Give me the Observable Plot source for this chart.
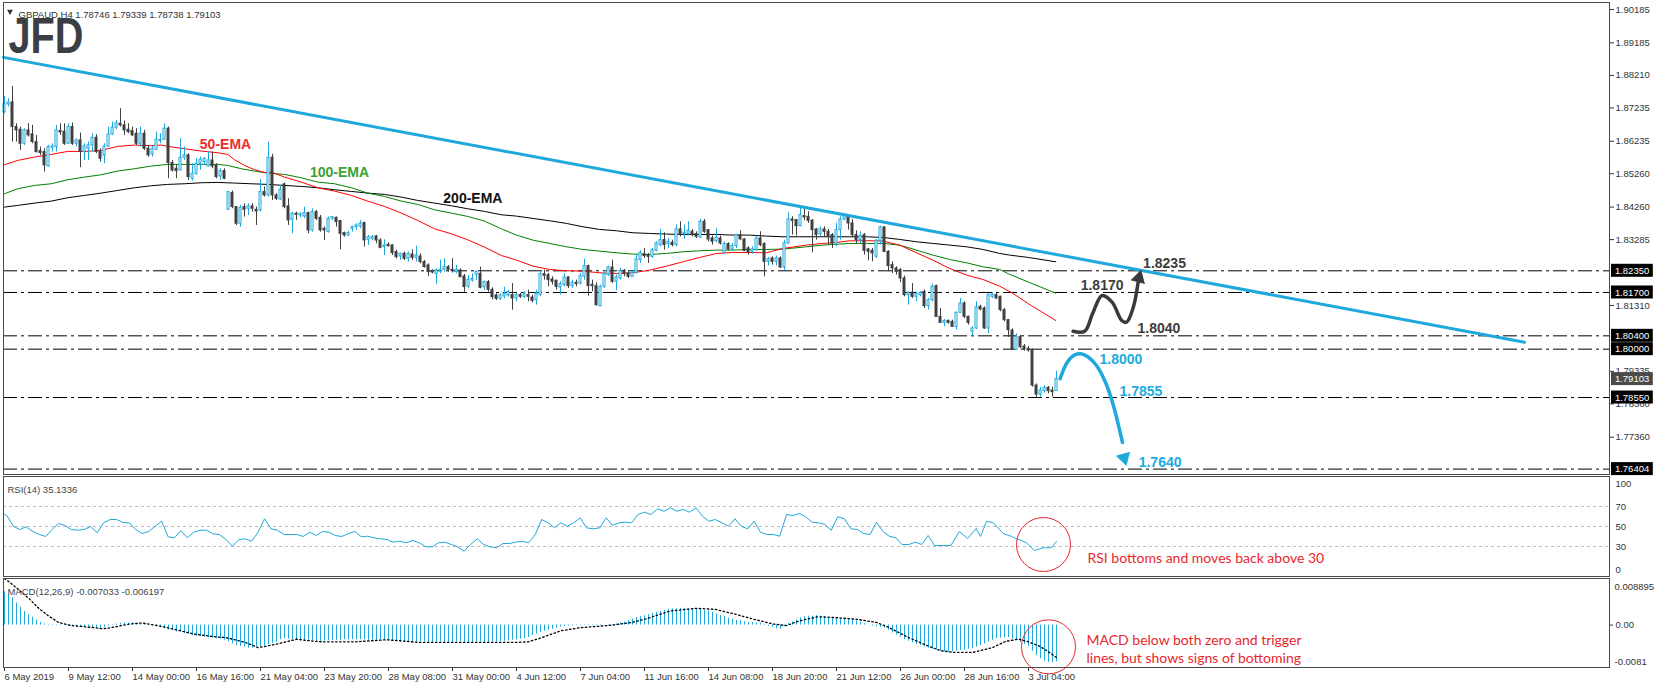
<!DOCTYPE html>
<html><head><meta charset="utf-8">
<script src="https://cdn.jsdelivr.net/npm/d3@7"></script>
<script src="https://cdn.jsdelivr.net/npm/@observablehq/plot@0.6"></script>
<style>
body{margin:0;background:#fff;}
#wrap{position:relative;width:1655px;height:688px;overflow:hidden;background:#fff;}
#wrap svg{position:absolute;left:0;overflow:visible;}
</style></head><body><div id="wrap"></div>
<script>
// ---------- DATA ----------
const open = [1.8711,1.8734,1.8740,1.8666,1.8658,1.8616,1.8656,1.8644,1.8621,1.8594,
1.8591,1.8548,1.8604,1.8606,1.8654,1.8652,1.8616,1.8666,1.8616,1.8626,
1.8591,1.8601,1.8611,1.8634,1.8591,1.8581,1.8608,1.8644,1.8664,1.8676,
1.8671,1.8658,1.8654,1.8646,1.8616,1.8646,1.8601,1.8584,1.8598,1.8624,
1.8628,1.8661,1.8558,1.8541,1.8536,1.8574,1.8581,1.8511,1.8526,1.8556,
1.8561,1.8548,1.8566,1.8551,1.8518,1.8534,1.8418,1.8468,1.8426,1.8376,
1.8426,1.8421,1.8428,1.8418,1.8416,1.8471,1.8461,1.8574,1.8461,1.8449,
1.8494,1.8428,1.8388,1.8406,1.8401,1.8398,1.8408,1.8356,1.8411,1.8394,
1.8361,1.8351,1.8391,1.8394,1.8384,1.8348,1.8341,1.8361,1.8366,1.8368,
1.8378,1.8328,1.8331,1.8338,1.8326,1.8306,1.8313,1.8311,1.8291,1.8278,
1.8286,1.8271,1.8284,1.8274,1.8278,1.8261,1.8251,1.8234,1.8226,1.8234,
1.8238,1.8246,1.8238,1.8231,1.8236,1.8218,1.8188,1.8206,1.8223,1.8226,
1.8186,1.8201,1.8178,1.8161,1.8151,1.8158,1.8161,1.8162,1.8152,1.8162,
1.8157,1.8162,1.8155,1.8147,1.8162,1.8225,1.8222,1.8209,1.8205,1.8185,
1.8192,1.8215,1.8189,1.8199,1.8197,1.8217,1.8249,1.8193,1.8189,1.8129,
1.8187,1.8222,1.8245,1.8202,1.8212,1.8235,1.8227,1.8217,1.8229,1.8267,
1.8285,1.8282,1.8277,1.8295,1.8312,1.8327,1.8315,1.8319,1.8312,1.8359,
1.8345,1.8345,1.8352,1.8345,1.8335,1.8382,1.8357,1.8332,1.8324,1.8332,
1.8289,1.8315,1.8299,1.8309,1.8342,1.8329,1.8302,1.8292,1.8297,1.8332,
1.8315,1.8262,1.8272,1.8262,1.8272,1.8245,1.8317,1.8389,1.8387,1.8369,
1.8399,1.8397,1.8385,1.8359,1.8345,1.8359,1.8352,1.8342,1.8317,1.8357,
1.8389,1.8399,1.8377,1.8342,1.8327,1.8342,1.8299,1.8295,1.8277,1.8325,
1.8365,1.8292,1.8252,1.8242,1.8237,1.8212,1.8162,1.8169,1.8157,1.8162,
1.8172,1.8129,1.8147,1.8189,1.8097,1.8079,1.8085,1.8082,1.8067,1.8109,
1.8137,1.8097,1.8052,1.8062,1.8127,1.8122,1.8062,1.8157,1.8162,1.8157,
1.8117,1.8087,1.8056,1.7998,1.8036,1.8008,1.8001,1.7996,1.7891,1.7864,
1.7874,1.7884,1.7876,1.78746];
const high = [1.8758,1.8751,1.8788,1.8676,1.8666,1.8661,1.8676,1.8671,1.8641,1.8606,
1.8601,1.8611,1.8616,1.8671,1.8676,1.8676,1.8676,1.8678,1.8631,1.8648,
1.8616,1.8621,1.8646,1.8643,1.8601,1.8616,1.8666,1.8681,1.8686,1.8721,
1.8684,1.8676,1.8666,1.8661,1.8666,1.8656,1.8611,1.8608,1.8651,1.8646,
1.8676,1.8666,1.8566,1.8551,1.8631,1.8606,1.8586,1.8556,1.8571,1.8576,
1.8574,1.8591,1.8591,1.8556,1.8541,1.8541,1.8471,1.8474,1.8428,1.8431,
1.8436,1.8436,1.8436,1.8426,1.8508,1.8486,1.8621,1.8584,1.8466,1.8491,
1.8498,1.8451,1.8411,1.8411,1.8408,1.8426,1.8411,1.8421,1.8416,1.8401,
1.8366,1.8396,1.8398,1.8396,1.8386,1.8351,1.8354,1.8369,1.8376,1.8386,
1.8381,1.8341,1.8341,1.8341,1.8331,1.8328,1.8319,1.8313,1.8296,1.8288,
1.8291,1.8291,1.8298,1.8309,1.8286,1.8266,1.8256,1.8238,1.8241,1.8266,
1.8271,1.8251,1.8271,1.8251,1.8241,1.8224,1.8221,1.8226,1.8236,1.8246,
1.8204,1.8206,1.8184,1.8166,1.8166,1.8186,1.8176,1.8197,1.8167,1.8167,
1.8172,1.8177,1.8162,1.8177,1.8232,1.8237,1.8227,1.8217,1.8207,1.8202,
1.8227,1.8217,1.8207,1.8207,1.8227,1.8270,1.8252,1.8207,1.8199,1.8192,
1.8229,1.8249,1.8267,1.8222,1.8242,1.8239,1.8232,1.8237,1.8282,1.8295,
1.8302,1.8287,1.8302,1.8322,1.8359,1.8349,1.8332,1.8327,1.8372,1.8382,
1.8372,1.8382,1.8359,1.8352,1.8389,1.8389,1.8359,1.8339,1.8362,1.8339,
1.8322,1.8319,1.8317,1.8345,1.8355,1.8332,1.8307,1.8307,1.8339,1.8352,
1.8319,1.8275,1.8277,1.8279,1.8277,1.8327,1.8409,1.8397,1.8389,1.8422,
1.8419,1.8412,1.8389,1.8362,1.8367,1.8367,1.8359,1.8347,1.8377,1.8397,
1.8407,1.8402,1.8389,1.8355,1.8352,1.8347,1.8302,1.8302,1.8329,1.8369,
1.8367,1.8295,1.8262,1.8247,1.8242,1.8219,1.8172,1.8197,1.8171,1.8173,
1.8177,1.8152,1.8195,1.8192,1.8122,1.8089,1.8087,1.8087,1.8112,1.8152,
1.8142,1.8099,1.8067,1.8142,1.8132,1.8127,1.8167,1.8169,1.8167,1.8159,
1.8122,1.8089,1.8061,1.8046,1.8041,1.8014,1.8008,1.8001,1.7896,1.7886,
1.7891,1.7888,1.7886,1.79339];
const low = [1.8706,1.8726,1.8621,1.8621,1.8596,1.8611,1.8636,1.8616,1.8588,1.8581,
1.8531,1.8546,1.8591,1.8591,1.8641,1.8611,1.8614,1.8611,1.8606,1.8544,
1.8566,1.8566,1.8591,1.8586,1.8561,1.8556,1.8606,1.8641,1.8658,1.8666,
1.8641,1.8646,1.8638,1.8611,1.8606,1.8596,1.8576,1.8576,1.8596,1.8616,
1.8626,1.8511,1.8531,1.8511,1.8534,1.8566,1.8506,1.8504,1.8521,1.8536,
1.8551,1.8546,1.8541,1.8511,1.8506,1.8508,1.8416,1.8421,1.8371,1.8366,
1.8396,1.8401,1.8411,1.8371,1.8411,1.8456,1.8456,1.8446,1.8446,1.8446,
1.8421,1.8371,1.8346,1.8386,1.8394,1.8391,1.8346,1.8351,1.8386,1.8351,
1.8326,1.8348,1.8386,1.8366,1.8298,1.8336,1.8338,1.8351,1.8356,1.8361,
1.8306,1.8311,1.8326,1.8316,1.8301,1.8281,1.8306,1.8281,1.8271,1.8266,
1.8266,1.8261,1.8266,1.8261,1.8256,1.8243,1.8218,1.8226,1.8194,1.8226,
1.8231,1.8231,1.8228,1.8226,1.8214,1.8171,1.8181,1.8201,1.8206,1.8181,
1.8176,1.8171,1.8148,1.8146,1.8146,1.8151,1.8156,1.8117,1.8142,1.8152,
1.8152,1.8142,1.8139,1.8132,1.8157,1.8207,1.8187,1.8192,1.8177,1.8162,
1.8187,1.8182,1.8182,1.8187,1.8192,1.8207,1.8159,1.8172,1.8129,1.8127,
1.8182,1.8217,1.8197,1.8175,1.8207,1.8217,1.8212,1.8215,1.8225,1.8257,
1.8272,1.8257,1.8272,1.8292,1.8307,1.8297,1.8302,1.8307,1.8307,1.8337,
1.8329,1.8342,1.8337,1.8332,1.8332,1.8347,1.8322,1.8312,1.8319,1.8312,
1.8287,1.8295,1.8295,1.8302,1.8327,1.8292,1.8282,1.8285,1.8292,1.8307,
1.8217,1.8249,1.8252,1.8249,1.8242,1.8235,1.8315,1.8342,1.8339,1.8367,
1.8385,1.8377,1.8289,1.8327,1.8337,1.8337,1.8312,1.8302,1.8307,1.8327,
1.8385,1.8357,1.8337,1.8317,1.8317,1.8282,1.8265,1.8262,1.8272,1.8312,
1.8289,1.8232,1.8227,1.8222,1.8199,1.8157,1.8132,1.8152,1.8142,1.8157,
1.8122,1.8117,1.8142,1.8095,1.8077,1.8067,1.8075,1.8065,1.8057,1.8107,
1.8092,1.8072,1.8039,1.8059,1.8115,1.8059,1.8047,1.8152,1.8149,1.8112,
1.8082,1.8035,1.7996,1.7996,1.8001,1.7994,1.7991,1.7886,1.7855,1.7856,
1.7868,1.7866,1.7856,1.78738];
const close = [1.8734,1.8740,1.8666,1.8656,1.8616,1.8656,1.8641,1.8621,1.8591,1.8588,
1.8551,1.8606,1.8608,1.8656,1.8650,1.8616,1.8666,1.8616,1.8626,1.8591,
1.8608,1.8611,1.8634,1.8591,1.8571,1.8608,1.8644,1.8664,1.8678,1.8671,
1.8656,1.8651,1.8641,1.8616,1.8646,1.8601,1.8581,1.8601,1.8628,1.8628,
1.8661,1.8558,1.8536,1.8534,1.8574,1.8581,1.8516,1.8526,1.8556,1.8568,
1.8571,1.8566,1.8548,1.8516,1.8534,1.8511,1.8471,1.8426,1.8376,1.8424,
1.8418,1.8428,1.8421,1.8413,1.8471,1.8461,1.8574,1.8461,1.8451,1.8478,
1.8426,1.8386,1.8406,1.8403,1.8406,1.8408,1.8356,1.8411,1.8391,1.8356,
1.8356,1.8391,1.8396,1.8381,1.8346,1.8341,1.8348,1.8366,1.8371,1.8376,
1.8326,1.8336,1.8336,1.8326,1.8304,1.8311,1.8309,1.8288,1.8276,1.8286,
1.8271,1.8286,1.8274,1.8281,1.8261,1.8246,1.8231,1.8230,1.8236,1.8238,
1.8246,1.8238,1.8234,1.8238,1.8216,1.8186,1.8208,1.8211,1.8231,1.8184,
1.8201,1.8178,1.8156,1.8151,1.8161,1.8166,1.8171,1.8152,1.8162,1.8157,
1.8167,1.8157,1.8145,1.8167,1.8225,1.8220,1.8207,1.8202,1.8187,1.8195,
1.8215,1.8189,1.8199,1.8195,1.8219,1.8249,1.8189,1.8189,1.8132,1.8187,
1.8225,1.8245,1.8202,1.8215,1.8235,1.8225,1.8217,1.8229,1.8269,1.8289,
1.8279,1.8277,1.8297,1.8317,1.8327,1.8312,1.8322,1.8312,1.8359,1.8342,
1.8349,1.8355,1.8342,1.8337,1.8382,1.8352,1.8329,1.8322,1.8334,1.8317,
1.8315,1.8299,1.8309,1.8342,1.8329,1.8295,1.8289,1.8299,1.8332,1.8312,
1.8262,1.8270,1.8262,1.8272,1.8245,1.8317,1.8389,1.8385,1.8369,1.8402,
1.8395,1.8385,1.8357,1.8342,1.8359,1.8352,1.8337,1.8317,1.8357,1.8389,
1.8399,1.8377,1.8342,1.8327,1.8339,1.8295,1.8292,1.8287,1.8325,1.8365,
1.8292,1.8249,1.8242,1.8232,1.8212,1.8162,1.8169,1.8157,1.8165,1.8169,
1.8129,1.8147,1.8187,1.8097,1.8079,1.8085,1.8079,1.8067,1.8109,1.8137,
1.8097,1.8079,1.8062,1.8125,1.8119,1.8062,1.8162,1.8164,1.8152,1.8117,
1.8087,1.8057,1.7998,1.8036,1.8006,1.8001,1.7996,1.7891,1.7864,1.7876,
1.7884,1.7874,1.7871,1.79103];

// EMA readings [bar, price]
const ema50 = [[0,1.8553],[3.3,1.8566],[7.5,1.8576],[11.7,1.8584],[15.8,1.8593],[20,1.8593],[24.2,1.8596],[28.3,1.8608],[32.5,1.8612],[36.7,1.8610],[39.2,1.8612],[40.8,1.8608],[45,1.8601],[49.2,1.8594],[53.3,1.8589],[55.8,1.8584],[57.5,1.8568],[60,1.8551],[62.5,1.8538],[65,1.8530],[66.7,1.8531],[70,1.8516],[74.2,1.8501],[78.3,1.8484],[82.5,1.8474],[86.7,1.8461],[90.8,1.8444],[95,1.8428],[99.2,1.8408],[103.3,1.8386],[107.5,1.8361],[111.7,1.8346],[115.8,1.8328],[120,1.8306],[124.2,1.8281],[128,1.8267],[132.1,1.8249],[136.3,1.8239],[140.5,1.8235],[144.6,1.8234],[148.8,1.8229],[153,1.8227],[157.1,1.8229],[161.3,1.8237],[165.5,1.8249],[169.6,1.8262],[173.8,1.8275],[178,1.8287],[182.1,1.8290],[186.3,1.8290],[190.5,1.8289],[194.6,1.8302],[200.5,1.8312],[204.6,1.8317],[207.1,1.8319],[211.3,1.8325],[217.1,1.8325],[219.6,1.8324],[223.8,1.8312],[228,1.8289],[232.1,1.8267],[236.3,1.8242],[240.5,1.8222],[244.6,1.8209],[248.8,1.8189],[252,1.8168],[256,1.8136],[262.8,1.8086]];
const ema100 = [[0,1.8466],[3.3,1.8481],[7.5,1.8491],[11.7,1.8496],[15.8,1.8508],[20,1.8516],[24.2,1.8523],[28.3,1.8534],[32.5,1.8541],[36.7,1.8549],[40.8,1.8554],[45,1.8554],[49.2,1.8554],[53.3,1.8554],[55.8,1.8551],[59.2,1.8541],[62.5,1.8534],[65.8,1.8528],[70,1.8524],[74.2,1.8514],[78.3,1.8501],[82.5,1.8496],[86.7,1.8484],[90.8,1.8468],[95,1.8458],[99.2,1.8444],[103.3,1.8434],[107.5,1.8418],[111.7,1.8408],[115.8,1.8398],[120,1.8384],[124.2,1.8361],[128,1.8342],[132.1,1.8327],[136.3,1.8317],[140.5,1.8307],[144.6,1.8299],[148.8,1.8294],[153,1.8289],[157.1,1.8285],[161.3,1.8284],[165.5,1.8287],[169.6,1.8292],[173.8,1.8295],[178,1.8297],[182.1,1.8297],[186.3,1.8299],[190.5,1.8299],[194.6,1.8300],[200.5,1.8307],[204.6,1.8312],[207.1,1.8314],[211.3,1.8317],[215.5,1.8317],[219.6,1.8317],[223.8,1.8312],[228,1.8297],[232.1,1.8282],[236.3,1.8269],[240.5,1.8259],[244.6,1.8247],[248.8,1.8239],[251,1.8226],[256,1.8201],[262.8,1.8168]];
const ema200 = [[0,1.8426],[3.3,1.8431],[7.5,1.8438],[11.7,1.8444],[15.8,1.8454],[20,1.8461],[24.2,1.8468],[28.3,1.8476],[32.5,1.8484],[36.7,1.8490],[40.8,1.8494],[45,1.8496],[49.2,1.8499],[53.3,1.8500],[57.5,1.8498],[61.7,1.8496],[65.8,1.8494],[70,1.8491],[74.2,1.8488],[78.3,1.8484],[82.5,1.8478],[86.7,1.8473],[90.8,1.8468],[95,1.8464],[99.2,1.8456],[103.3,1.8446],[107.5,1.8438],[111.7,1.8430],[115.8,1.8421],[120,1.8413],[124.2,1.8403],[128,1.8399],[132.1,1.8392],[136.3,1.8385],[140.5,1.8377],[144.6,1.8367],[148.8,1.8359],[153,1.8355],[157.1,1.8349],[161.3,1.8347],[165.5,1.8345],[169.6,1.8344],[173.8,1.8344],[178,1.8344],[182.1,1.8342],[186.3,1.8342],[190.5,1.8339],[194.6,1.8337],[198.8,1.8337],[203,1.8337],[207.1,1.8337],[211.3,1.8337],[215.5,1.8337],[219.6,1.8335],[223.8,1.8329],[228,1.8322],[232.1,1.8317],[236.3,1.8312],[240.5,1.8307],[244.6,1.8299],[248.8,1.8287],[251.3,1.8282],[256,1.8275],[262.8,1.8262]];

// RSI(14) readings [bar, value]
const rsi = [[0,62],[0.6,61],[2.2,50.3],[3.8,47],[5.4,49.7],[7.1,45],[8.7,42],[10.3,40],[11.9,47],[13.5,53],[15.1,51],[16.7,47],[18.3,46.3],[19.9,47],[21.5,50],[23.2,43.7],[24.8,53.7],[26.4,57],[28,57],[29.6,54],[31.2,53.7],[32.8,47],[34.4,43],[36,45],[37.6,50],[39.3,55.3],[40.9,39.7],[42.5,38.7],[44.1,46],[45.7,38.7],[47.3,44.3],[48.9,46.3],[50.5,46.3],[52.1,42.7],[53.7,42],[55.4,37],[57,30.3],[58.6,37],[60.2,37.7],[61.8,35.3],[63.4,44.3],[65,57.7],[66.6,47.7],[68.2,46.3],[69.9,42],[71.5,42],[73.1,42],[74.7,40],[76.3,44.3],[77.9,41],[79.5,45],[81.1,44.3],[82.7,41],[84.3,40],[86,43],[87.6,45],[89.2,39.7],[90.8,40.3],[92.4,38.7],[94,37.7],[95.6,37],[97.2,34.3],[98.8,35.3],[100.4,33.7],[102.1,36],[103.7,33.7],[105.3,29.7],[106.9,29.7],[108.5,33.7],[110.1,34.3],[111.7,32],[113.3,29.7],[114.9,25.3],[116.5,32],[118.2,37.7],[119.8,32],[121.4,29.7],[123,28.7],[124.6,33],[126.2,33],[127.8,34.3],[129.4,35.3],[131,33.7],[132.7,42],[134.3,57],[135.9,53.7],[137.5,48.7],[139.1,53.7],[140.7,50.3],[142.3,53.7],[143.9,58.7],[145.5,48.7],[147.1,47.7],[148.8,48.7],[150.4,58.7],[152,51],[153.6,53.7],[155.2,54.3],[156.8,53.7],[158.4,62],[160,64.3],[161.6,62],[163.3,67.7],[164.9,65.3],[166.5,68.7],[168.1,65.3],[169.7,67],[171.3,64.3],[172.9,68.7],[174.5,60.3],[176.1,55.3],[177.7,57],[179.4,53.7],[181,50.3],[182.6,57.7],[184.2,50.3],[185.8,47.7],[187.4,55.3],[189,44.3],[190.6,42],[192.2,42],[193.8,40.3],[195.5,62],[197.1,61],[198.7,63],[200.3,59.7],[201.9,54.3],[203.5,53.7],[205.1,52],[206.7,46.3],[208.3,59.7],[210,57.7],[211.6,47.7],[213.2,47],[214.8,43],[216.4,42],[218,54.3],[219.6,45],[221.2,40.3],[222.8,38.7],[224.4,32],[226.1,32],[227.7,34.3],[229.3,32],[230.9,41],[232.5,31],[234.1,31],[235.7,31],[236.6,31],[238.7,45],[240.8,38],[242.9,48],[244,40],[245.5,55],[247.1,54],[249.7,43],[251.8,40],[252.8,38],[255.4,34],[257.5,26],[259.6,28.7],[261.7,28.7],[263,35.1]];

// MACD(12,26,9) main histogram, one value per bar
const macdMain = [.0064,.0058,.0052,.0042,.0034,.0026,.0020,.0015,.0009,.0005,
.0002,-.0001,-.0001,-.0001,-.0001,-.0001,-.0002,-.0002,-.0003,-.0003,
-.0004,-.0004,-.0005,-.0005,-.0006,-.0005,-.0002,.0001,.0002,.0003,
.0004,.0004,.0004,.0003,.0002,.0001,0,-.0001,-.0003,-.0005,
-.0007,-.0009,-.0011,-.0013,-.0014,-.0016,-.0018,-.0020,-.0021,-.0022,
-.0023,-.0024,-.0025,-.0026,-.0027,-.0029,-.0032,-.0035,-.0039,-.0041,
-.0042,-.0044,-.0044,-.0042,-.0041,-.0040,-.0037,-.0035,-.0033,-.0028,
-.0026,-.0027,-.0028,-.0028,-.0029,-.0029,-.0029,-.0030,-.0031,-.0031,
-.0030,-.0030,-.0029,-.0029,-.0029,-.0028,-.0028,-.0028,-.0028,-.0028,
-.0028,-.0029,-.0029,-.0029,-.0028,-.0028,-.0029,-.0030,-.0031,-.0032,
-.0033,-.0033,-.0033,-.0033,-.0032,-.0032,-.0033,-.0033,-.0032,-.0032,
-.0033,-.0033,-.0033,-.0032,-.0032,-.0033,-.0033,-.0033,-.0032,-.0032,
-.0033,-.0033,-.0032,-.0032,-.0031,-.0031,-.0030,-.0029,-.0028,-.0027,
-.0026,-.0024,-.0020,-.0017,-.0014,-.0012,-.0010,-.0008,-.0006,-.0004,
-.0003,-.0002,-.0001,-.0001,-.0001,-.0001,-.0001,-.0001,-.0001,-.0001,
0,.0001,.0001,.0002,.0004,.0006,.0009,.0011,.0014,.0016,
.0018,.0020,.0022,.0024,.0026,.0028,.0030,.0031,.0031,.0032,
.0032,.0031,.0031,.0031,.0030,.0028,.0027,.0024,.0021,.0018,
.0016,.0013,.0011,.0009,.0008,.0006,.0005,.0005,.0004,.0004,
.0001,-.0002,-.0004,-.0007,-.0008,-.0003,.0003,.0006,.0010,.0014,
.0016,.0017,.0017,.0018,.0017,.0016,.0014,.0013,.0012,.0012,
.0011,.0011,.0010,.0008,.0006,.0003,0,-.0002,-.0003,-.0004,
-.0006,-.0010,-.0015,-.0019,-.0023,-.0028,-.0031,-.0034,-.0037,-.0039,
-.0042,-.0044,-.0046,-.0048,-.0050,-.0051,-.0052,-.0051,-.0050,-.0049,
-.0048,-.0046,-.0045,-.0042,-.0039,-.0036,-.0032,-.0029,-.0026,-.0025,
-.0024,-.0024,-.0027,-.0030,-.0033,-.0037,-.0041,-.0050,-.0058,-.0064,
-.0069,-.0071,-.0072,-.0070];
// MACD signal readings [bar, value]
const macdSignal = [[0,.0089],[1.4,.0081],[3.8,.0066],[6.2,.0050],[8.7,.0031],[11.1,.0017],[13.5,.0005],[16.7,-.0001],[19.9,-.0003],[24.8,-.0007],[28,-.0003],[31.2,.0002],[34.4,.0004],[37.6,0],[42.5,-.0008],[47.3,-.0017],[52.1,-.0022],[55.4,-.0024],[60.2,-.0033],[63.4,-.0043],[65,-.0041],[68.2,-.0036],[73.1,-.0027],[76.3,-.0030],[79.5,-.0032],[87.6,-.0032],[95.6,-.0028],[103.7,-.0033],[111.7,-.0033],[119.8,-.0033],[127.8,-.0033],[131,-.0032],[134.3,-.0024],[139.1,-.0011],[143.9,-.0005],[152,0],[156.8,.0005],[160,.0011],[166.5,.0027],[172.9,.0032],[177.7,.0030],[182.6,.0021],[187.4,.0011],[192.2,.0002],[195.5,-.0001],[198.7,.0008],[203.5,.0016],[208.3,.0014],[213.2,.0011],[218,.0005],[221.2,-.0005],[226.1,-.0024],[230.9,-.0040],[234.1,-.0049],[237.3,-.0052],[242.2,-.0052],[247,-.0043],[250.3,-.0031],[253.5,-.0027],[255.6,-.0031],[258.7,-.0040],[260.8,-.0050],[263,-.0062]];

// Time axis labels (every 16 H4 bars)
const timeTickBars = [0,16,32,48,64,80,96,112,128,144,160,176,192,208,224,240,256];
const timeTickLabels = ["6 May 2019","9 May 12:00","14 May 00:00","16 May 16:00","21 May 04:00","23 May 20:00","28 May 08:00","31 May 00:00","4 Jun 12:00","7 Jun 04:00","11 Jun 16:00","14 Jun 08:00","18 Jun 20:00","21 Jun 12:00","26 Jun 00:00","28 Jun 16:00","3 Jul 04:00"];
// Price axis
const priceTicks = [1.90185,1.89185,1.88210,1.87235,1.86235,1.85260,1.84260,1.83285,1.81310,1.79335,1.78360,1.77360];
const levelLines = [1.8235,1.8170,1.8040,1.8000,1.7855,1.76404];
const levelBoxes = [1.82350,1.81700,1.80400,1.80000,1.78550,1.76404];
const lastPrice = 1.79103;
// Trendline [bar, price]
const trendline = [[-0.25,1.8875],[380,1.8021]];
// Scenario paths [bar, price]
const bullPath = [[267.15,1.80539],[270.05,1.80539],[272,1.81061],[274.4,1.81610],[276.9,1.81409],[279.3,1.80860],[280.5,1.80809],[282.2,1.81259],[283.4,1.81999]];
const bullHead = [283.6,1.82134];
const bearPath = [[263.9,1.79112],[265.7,1.79609],[267.6,1.79831],[269.1,1.79861],[271,1.79759],[273,1.79510],[275.4,1.78962],[277.35,1.78260],[278.8,1.77561],[279.5,1.77201]];
const bearHead = [279.9,1.76743];
const levelTexts = [
  {t:"1.8235", i:290, p:1.8257, c:"dark"},
  {t:"1.8170", i:274.4, p:1.8191, c:"dark"},
  {t:"1.8040", i:288.6, p:1.8062, c:"dark"},
  {t:"1.8000", i:279.1, p:1.7970, c:"cyan"},
  {t:"1.7855", i:284.1, p:1.7872, c:"cyan"},
  {t:"1.7640", i:288.9, p:1.7660, c:"cyan"}];
const emaLabels = [
  {t:"50-EMA", i:55.25, p:1.8614, c:"#ee2b2b"},
  {t:"100-EMA", i:83.75, p:1.8531, c:"#3aa235"},
  {t:"200-EMA", i:117.1, p:1.8453, c:"#111111"}];

// ---------- STYLE ----------
const CYAN = "#1fa8dc", BEAR = "#404040", DARK = "#3a3a3a", RED = "#e8262e", FRAME = "#4a4a4a";
const FONT = "'Liberation Sans', Arial, sans-serif";
const AX = 9.5;
const W = 1655, ML = 3, MR = 46;
const xDomain = [-0.25, 401.25];
const pScale = 3335;
const yTop = 1.90185 + 7 / pScale, yBot = 1.90185 - 465 / pScale;

const candles = d3.range(open.length).map(i => ({i, o: open[i], h: high[i], l: low[i], c: close[i]}));
const bull = candles.filter(d => d.c >= d.o), bear = candles.filter(d => d.c < d.o);
const baseStyle = {fontFamily: FONT, fontSize: "10px", color: "#333", background: "transparent", overflow: "visible"};

const wrap = document.getElementById("wrap");

// ---------- MAIN PRICE PANEL ----------
const main = Plot.plot({
  width: W, height: 475, marginTop: 2, marginBottom: 1, marginLeft: ML, marginRight: MR,
  x: {domain: xDomain, axis: null, label: null},
  y: {domain: [yBot, yTop], axis: null, label: null},
  style: baseStyle,
  marks: [
    Plot.ruleY(levelLines, {stroke: "#000", strokeWidth: 1, strokeDasharray: "14,4,3,4"}),
    Plot.line(ema200, {x: d => d[0], y: d => d[1], stroke: "#000", strokeWidth: 1}),
    Plot.line(ema100, {x: d => d[0], y: d => d[1], stroke: "#008000", strokeWidth: 1}),
    Plot.line(ema50, {x: d => d[0], y: d => d[1], stroke: "#ff0000", strokeWidth: 1}),
    Plot.ruleX(bear, {x: "i", y1: "l", y2: "h", stroke: BEAR}),
    Plot.ruleX(bull, {x: "i", y1: "l", y2: "h", stroke: CYAN}),
    Plot.rect(bear, {x1: d => d.i - 0.25, x2: d => d.i + 0.25, y1: "o", y2: "c", fill: BEAR, stroke: BEAR}),
    Plot.rect(bull, {x1: d => d.i - 0.25, x2: d => d.i + 0.25, y1: "o", y2: "c", fill: "#fff", stroke: CYAN}),
    Plot.line(trendline, {x: d => d[0], y: d => d[1], stroke: CYAN, strokeWidth: 3}),
    Plot.line(bullPath, {x: d => d[0], y: d => d[1], stroke: DARK, strokeWidth: 3.5, curve: "catmull-rom"}),
    Plot.dot([bullHead], {x: d => d[0], y: d => d[1], symbol: "triangle", r: 5.5, fill: DARK, rotate: 15}),
    Plot.line(bearPath, {x: d => d[0], y: d => d[1], stroke: CYAN, strokeWidth: 3.5, curve: "catmull-rom"}),
    Plot.dot([bearHead], {x: d => d[0], y: d => d[1], symbol: "triangle", r: 5.5, fill: CYAN, rotate: 164}),
    Plot.text(levelTexts, {x: "i", y: "p", text: "t", fill: d => d.c === "cyan" ? "#1aabe0" : "#3d3d3d", fontSize: 14, fontWeight: 700, fontFamily: FONT}),
    Plot.text(emaLabels, {x: "i", y: "p", text: "t", fill: "c", fontSize: 14, fontWeight: 700, fontFamily: FONT}),
    Plot.axisY(priceTicks, {anchor: "right", label: null, tickSize: 4, tickPadding: 2, tickFormat: d3.format(".5f"), fontSize: AX, stroke: "#333", fill: "#333"}),
    Plot.rect(levelBoxes, {x1: 401.75, x2: 412.2, y1: d => d - 6.5 / pScale, y2: d => d + 6.5 / pScale, fill: "#000"}),
    Plot.text(levelBoxes, {x: 402.6, y: d => d, text: d => d.toFixed(5), textAnchor: "start", fill: "#fff", fontSize: AX}),
    Plot.rect([lastPrice], {x1: 401.75, x2: 412.2, y1: d => d - 6.5 / pScale, y2: d => d + 6.5 / pScale, fill: "#4a4a4a"}),
    Plot.text([lastPrice], {x: 402.6, y: d => d, text: d => d.toFixed(5), textAnchor: "start", fill: "#fff", fontSize: AX}),
    Plot.dot([0], {frameAnchor: "top-left", dx: 6.5, dy: 9, symbol: "triangle", r: 2.2, fill: "#333", rotate: 180}),
    Plot.text(["GBPAUD,H4 1.78746 1.79339 1.78738 1.79103"], {text: d => d, frameAnchor: "top-left", dx: 15, dy: 9, textAnchor: "start", fontSize: 9.5, fill: "#333"}),
    Plot.text(["JFD"], {text: d => d, frameAnchor: "top-left", dx: 5, dy: 15, textAnchor: "start", lineAnchor: "top", fontSize: 50, fontWeight: 700, fill: "#3b3e45", fontFamily: FONT}),
    Plot.frame({stroke: FRAME})
  ]
});
d3.select(main).selectAll("text").filter(function() { return this.textContent === "JFD"; })
  .attr("textLength", 75).attr("lengthAdjust", "spacingAndGlyphs");
main.style.top = "0px";
wrap.appendChild(main);

// ---------- RSI PANEL ----------
const rsiPlot = Plot.plot({
  width: W, height: 101, marginTop: 0, marginBottom: 1, marginLeft: ML, marginRight: MR,
  x: {domain: xDomain, axis: null, label: null},
  y: {domain: [0, 100], axis: null, label: null},
  style: baseStyle,
  marks: [
    Plot.ruleY([70, 50, 30], {stroke: "#bdbdbd", strokeDasharray: "3,3"}),
    Plot.line(rsi, {x: d => d[0], y: d => d[1], stroke: CYAN, strokeWidth: 1}),
    Plot.axisY([70, 50, 30], {anchor: "right", label: null, tickSize: 0, tickPadding: 6, fontSize: AX, fill: "#333"}),
    Plot.text([100], {y: d => d, text: d => String(d), frameAnchor: "right", dx: 6, dy: 7, textAnchor: "start", fontSize: AX, fill: "#333"}),
    Plot.text([0], {y: d => d, text: d => String(d), frameAnchor: "right", dx: 6, dy: -7, textAnchor: "start", fontSize: AX, fill: "#333"}),
    Plot.text(["RSI(14) 35.1336"], {text: d => d, frameAnchor: "top-left", dx: 4, dy: 10, textAnchor: "start", fontSize: AX, fill: "#444"}),
    Plot.dot([[259.75, 32]], {x: d => d[0], y: d => d[1], r: 27, stroke: RED, strokeWidth: 1, fill: "none"}),
    Plot.text(["RSI bottoms and moves back above 30"], {text: d => d, x: 270.75, y: 18, textAnchor: "start", fill: RED, fontSize: 14, fontFamily: "Lato, 'Liberation Sans', sans-serif"}),
    Plot.frame({stroke: FRAME})
  ]
});
rsiPlot.style.top = "476px";
wrap.appendChild(rsiPlot);

// ---------- MACD PANEL ----------
const tickLabelOf = new Map(timeTickBars.map((b, k) => [b, timeTickLabels[k]]));
const macdPlot = Plot.plot({
  width: W, height: 111, marginTop: 1, marginBottom: 21, marginLeft: ML, marginRight: MR,
  x: {domain: xDomain, axis: null, label: null},
  y: {domain: [-0.0081, 0.008895], axis: null, label: null},
  style: baseStyle,
  marks: [
    Plot.ruleX(macdMain.map((v, i) => ({i, v})), {x: "i", y1: 0, y2: "v", stroke: CYAN, strokeWidth: 1}),
    Plot.line(macdSignal, {x: d => d[0], y: d => d[1], stroke: "#000", strokeWidth: 1.3, strokeDasharray: "1.5,2.5"}),
    Plot.axisY([0], {anchor: "right", label: null, tickSize: 3, tickPadding: 3, tickFormat: d3.format(".2f"), fontSize: AX, fill: "#333", stroke: "#333"}),
    Plot.text([0.008895], {y: d => d, text: () => "0.008895", frameAnchor: "right", dx: 5, dy: 8, textAnchor: "start", fontSize: 9.5, fill: "#333"}),
    Plot.text([-0.0081], {y: d => d, text: () => "-0.0081", frameAnchor: "right", dx: 5, dy: -6, textAnchor: "start", fontSize: AX, fill: "#333"}),
    Plot.axisX(timeTickBars, {anchor: "bottom", label: null, tickSize: 4, tickPadding: 2, tickFormat: d => tickLabelOf.get(d), textAnchor: "start", dx: 0, fontSize: AX, fill: "#333", stroke: "#333"}),
    Plot.text(["MACD(12,26,9) -0.007033 -0.006197"], {text: d => d, frameAnchor: "top-left", dx: 4, dy: 10, textAnchor: "start", fontSize: AX, fill: "#444"}),
    Plot.dot([[261, -0.00415]], {x: d => d[0], y: d => d[1], r: 27, stroke: RED, strokeWidth: 1, fill: "none"}),
    Plot.text(["MACD below both zero and trigger"], {text: d => d, x: 270.5, y: -0.0030, textAnchor: "start", fill: RED, fontSize: 14, fontFamily: "Lato, 'Liberation Sans', sans-serif"}),
    Plot.text(["lines, but shows signs of bottoming"], {text: d => d, x: 270.5, y: -0.00644, textAnchor: "start", fill: RED, fontSize: 14, fontFamily: "Lato, 'Liberation Sans', sans-serif"}),
    Plot.frame({stroke: FRAME})
  ]
});
macdPlot.style.top = "577px";
wrap.appendChild(macdPlot);
</script></body></html>
